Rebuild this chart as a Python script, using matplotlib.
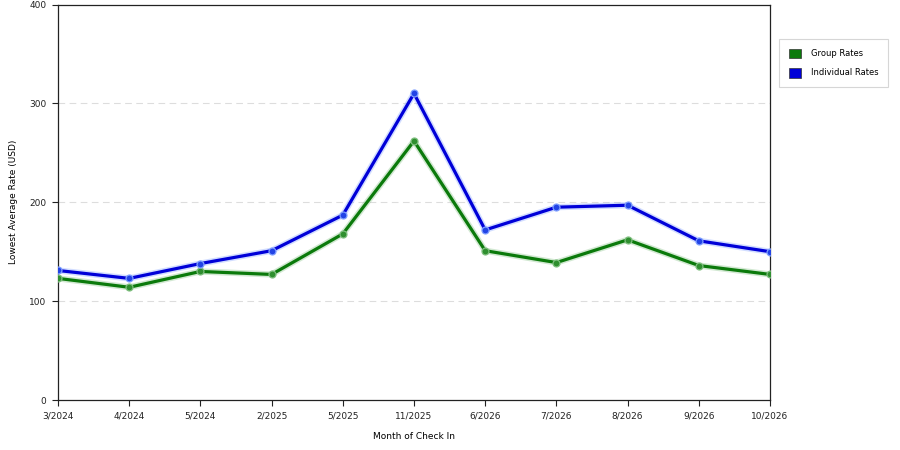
import matplotlib
matplotlib.use('Agg')
import matplotlib.pyplot as plt
from matplotlib.patches import Patch

months = ['3/2024', '4/2024', '5/2024', '2/2025', '5/2025', '11/2025',
          '6/2026', '7/2026', '8/2026', '9/2026', '10/2026']
group_rates = [123, 114, 130, 127, 168, 262, 151, 139, 162, 136, 127]
individual_rates = [131, 123, 138, 151, 187, 310, 172, 195, 197, 161, 150]

green = '#0b7a0b'
blue = '#0000d8'

fig = plt.figure(figsize=(9, 4.5), dpi=100)
ax = fig.add_axes([58 / 900, 50 / 450, 712 / 900, 395.5 / 450])

x = range(len(months))
for vals, col, light, mk in [(group_rates, green, '#7fbf7f', '#2f8f2f'),
                             (individual_rates, blue, '#7f9fff', '#2244e6')]:
    ax.plot(x, vals, color=light, lw=4.5, alpha=0.35, solid_capstyle='round', zorder=2)
    ax.plot(x, vals, color=col, lw=2.3, zorder=3)
    ax.plot(x, vals, ls='none', marker='o', ms=5, mfc=mk, mec=light, mew=0.9, zorder=4)

ax.set_xlim(0, len(months) - 1)
ax.set_ylim(0, 400)
ax.set_yticks([0, 100, 200, 300, 400])
ax.set_xticks(list(x))
ax.set_xticklabels(months)
ax.tick_params(labelsize=6.5, direction='out', length=4.5, width=0.8, pad=4,
               colors='#222222')
for yv in [100, 200, 300]:
    ax.axhline(yv, color='#dddddd', lw=0.8, ls=(0, (6, 4)), zorder=1)
for s in ax.spines.values():
    s.set_color('#222222')
    s.set_linewidth(0.9)

ax.set_xlabel('Month of Check In', fontsize=6.5, labelpad=8)
ax.set_ylabel('Lowest Average Rate (USD)', fontsize=6.5, labelpad=8)

handles = [Patch(facecolor=green, edgecolor='#333333', lw=0.5, label='Group Rates'),
           Patch(facecolor=blue, edgecolor='#333333', lw=0.5, label='Individual Rates')]
leg = fig.legend(handles=handles, loc='upper left', bbox_to_anchor=(779 / 900, 1 - 39 / 450),
                 fontsize=6, frameon=True, fancybox=False, handlelength=1.45,
                 handleheight=1.45, borderpad=1.15, labelspacing=1.1, handletextpad=1.2,
                 borderaxespad=0)
leg.get_frame().set_edgecolor('#cccccc')
leg.get_frame().set_linewidth(0.8)

fig.savefig('out.png', dpi=100)
